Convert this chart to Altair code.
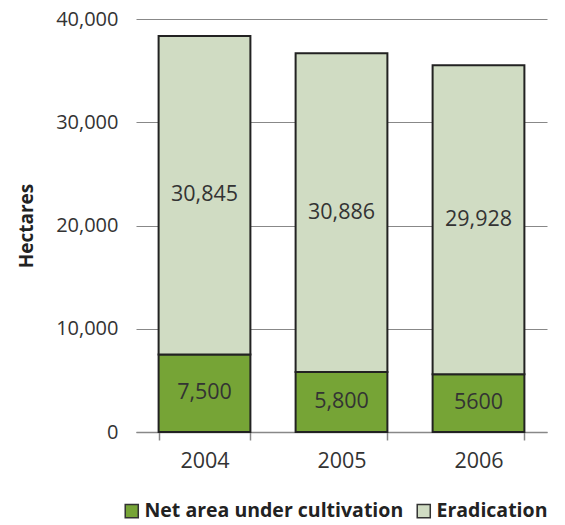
import altair as alt
import pandas as pd

years = ["2004", "2005", "2006"]
net_area = [7500, 5800, 5600]
eradication = [30845, 30886, 29928]
net_labels = ["7,500", "5,800", "5600"]
erad_labels = ["30,845", "30,886", "29,928"]
series = ["Net area under cultivation", "Eradication"]
colors = ["#76A436", "#D0DCC3"]

rows = []
for i, y in enumerate(years):
    rows.append({"year": y, "series": series[0], "value": net_area[i], "label": net_labels[i], "ord": 0})
    rows.append({"year": y, "series": series[1], "value": eradication[i], "label": erad_labels[i], "ord": 1})
df = pd.DataFrame(rows)

FONT = "Open Sans"

base = alt.Chart(df).transform_stack(
    stack="value", groupby=["year"], as_=["v0", "v1"], sort=[alt.SortField("ord", order="ascending")]
).transform_calculate(mid="(datum.v0 + datum.v1) / 2")

xscale = alt.Scale(paddingInner=0.33, paddingOuter=0.165)
yscale = alt.Scale(domain=[0, 40000])

xaxis = alt.Axis(labelAngle=0, labelFontSize=21.5, labelColor="#333", labelPadding=10,
                 domainColor="#888", domainWidth=1.5, tickColor="#888", tickWidth=1.5,
                 tickSize=8, tickBand="extent", labelFont=FONT)
yaxis = alt.Axis(values=[0, 10000, 20000, 30000, 40000], format=",.0f", domain=False, ticks=False,
                 grid=True, gridColor="#888", gridWidth=1.2, labelFontSize=20, labelColor="#333",
                 labelPadding=18, titleFontSize=19, titleFontWeight="bold", titleColor="#222",
                 titlePadding=19, labelFont=FONT, titleFont=FONT)

bars = base.mark_bar(stroke="#222", strokeWidth=2).encode(
    x=alt.X("year:N", title=None, sort=years, scale=xscale, axis=xaxis),
    y=alt.Y("v0:Q", title="Hectares", scale=yscale, axis=yaxis),
    y2="v1:Q",
    color=alt.Color("series:N", sort=series,
                    scale=alt.Scale(domain=series, range=colors),
                    legend=alt.Legend(title=None, orient="none", legendX=-14, legendY=482,
                                      direction="horizontal", symbolType="square", symbolSize=170,
                                      symbolStrokeColor="#333", symbolStrokeWidth=1.5,
                                      labelFontSize=19.5, labelFontWeight="bold", labelColor="#222",
                                      labelFont=FONT, columnPadding=10, labelOffset=3, labelLimit=400)),
)

text = base.mark_text(fontSize=21.5, color="#333", font=FONT).encode(
    x=alt.X("year:N", title=None, sort=years, scale=xscale, axis=xaxis),
    y=alt.Y("mid:Q", title="Hectares", scale=yscale, axis=yaxis),
    text="label:N",
)

chart = alt.layer(bars, text).properties(
    width=411, height=413,
    autosize=alt.AutoSizeParams(type="none"),
    padding={"left": 128, "top": 11, "right": 10, "bottom": 92},
).configure_view(stroke=None)

chart.save("out.html", embed_options={"renderer": "svg", "actions": False})
